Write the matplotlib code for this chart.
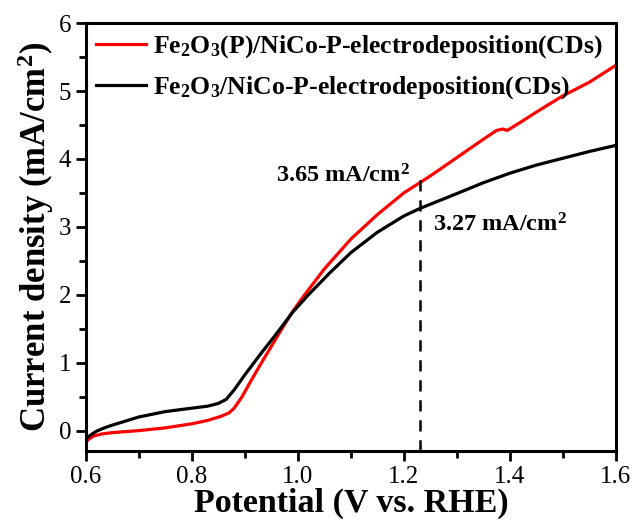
import matplotlib
matplotlib.use("Agg")
import matplotlib.pyplot as plt
from matplotlib.ticker import MultipleLocator

plt.rcParams['font.family'] = ['Liberation Serif', 'DejaVu Serif']
plt.rcParams['mathtext.fontset'] = 'custom'
plt.rcParams['mathtext.rm'] = 'Liberation Serif:bold'
plt.rcParams['mathtext.it'] = 'Liberation Serif:bold'
plt.rcParams['mathtext.bf'] = 'Liberation Serif:bold'

# LSV curves (potential in V vs RHE, current density in mA/cm2)
pot_p = [0.600, 0.605, 0.615, 0.630, 0.650, 0.700, 0.750, 0.800, 0.830, 0.855,
         0.870, 0.880, 0.895, 0.910, 0.930, 0.950, 0.970, 0.990, 1.010, 1.050,
         1.100, 1.150, 1.200, 1.230, 1.250, 1.300, 1.350, 1.375, 1.386, 1.395,
         1.420, 1.450, 1.500, 1.550, 1.600]
cur_p = [-0.18, -0.13, -0.08, -0.05, -0.03, 0.00, 0.04, 0.10, 0.15, 0.21,
         0.26, 0.33, 0.50, 0.71, 0.98, 1.24, 1.50, 1.75, 1.97, 2.38,
         2.82, 3.18, 3.50, 3.65, 3.75, 4.02, 4.29, 4.42, 4.44, 4.42,
         4.54, 4.69, 4.93, 5.13, 5.38]

pot_ref = [0.600, 0.610, 0.620, 0.635, 0.650, 0.700, 0.750, 0.800, 0.830, 0.850,
           0.865, 0.880, 0.900, 0.930, 0.960, 0.990, 1.020, 1.060, 1.100, 1.150,
           1.200, 1.230, 1.300, 1.350, 1.400, 1.450, 1.500, 1.550, 1.600]
cur_ref = [-0.12, -0.06, -0.01, 0.04, 0.08, 0.20, 0.28, 0.33, 0.36, 0.40,
           0.46, 0.60, 0.82, 1.13, 1.43, 1.74, 2.00, 2.32, 2.62, 2.92,
           3.16, 3.27, 3.49, 3.65, 3.79, 3.91, 4.01, 4.11, 4.20]

labels = [r'Fe$_2$O$_3$(P)/NiCo-P-electrodeposition(CDs)',
          r'Fe$_2$O$_3$/NiCo-P-electrodeposition(CDs)']

v_mark = 1.23
j_p = 3.65
j_ref = 3.27

fig = plt.figure(figsize=(6.35, 5.25), dpi=100)
ax = fig.add_axes([0.135, 0.141, 0.835, 0.815])

ax.plot(pot_p, cur_p, color='#ff0000', lw=2.3, label=labels[0])
ax.plot(pot_ref, cur_ref, color='black', lw=2.3, label=labels[1])

# dashed marker at 1.23 V
ax.plot([v_mark, v_mark], [-0.3, 3.77], color='black', lw=1.8,
        linestyle=(0, (4.5, 3.5)))
ax.text(1.212, j_p + 0.1, r'3.65 mA/cm$^2$', fontsize=17.5, fontweight='bold',
        ha='right', va='center')
ax.text(1.255, j_ref - 0.24, r'3.27 mA/cm$^2$', fontsize=17.5, fontweight='bold',
        ha='left', va='center')

ax.set_xlim(0.6, 1.6)
ax.set_ylim(-0.3, 6)
ax.xaxis.set_major_locator(MultipleLocator(0.2))
ax.xaxis.set_minor_locator(MultipleLocator(0.1))
ax.yaxis.set_major_locator(MultipleLocator(1))
ax.yaxis.set_minor_locator(MultipleLocator(0.5))
ax.xaxis.set_major_formatter(plt.FuncFormatter(lambda v, p: f'{v:.1f}'))

ax.tick_params(which='both', direction='out', top=False, right=False,
               labelsize=18, width=2)
ax.tick_params(which='major', length=7)
ax.tick_params(which='minor', length=5)
for s in ax.spines.values():
    s.set_linewidth(2.2)

ax.set_xlabel('Potential (V vs. RHE)', fontsize=24.5, fontweight='bold', labelpad=0)
ax.set_ylabel('Current density (mA/cm$^2$)', fontsize=25, fontweight='bold',
              labelpad=2)

ax.legend(loc='upper left', frameon=False, handlelength=1.95,
          handletextpad=0.25, borderaxespad=0.1, labelspacing=0.55,
          borderpad=0.3, prop={'weight': 'bold', 'size': 18.5})

fig.savefig('out.png', dpi=100, facecolor='white')
